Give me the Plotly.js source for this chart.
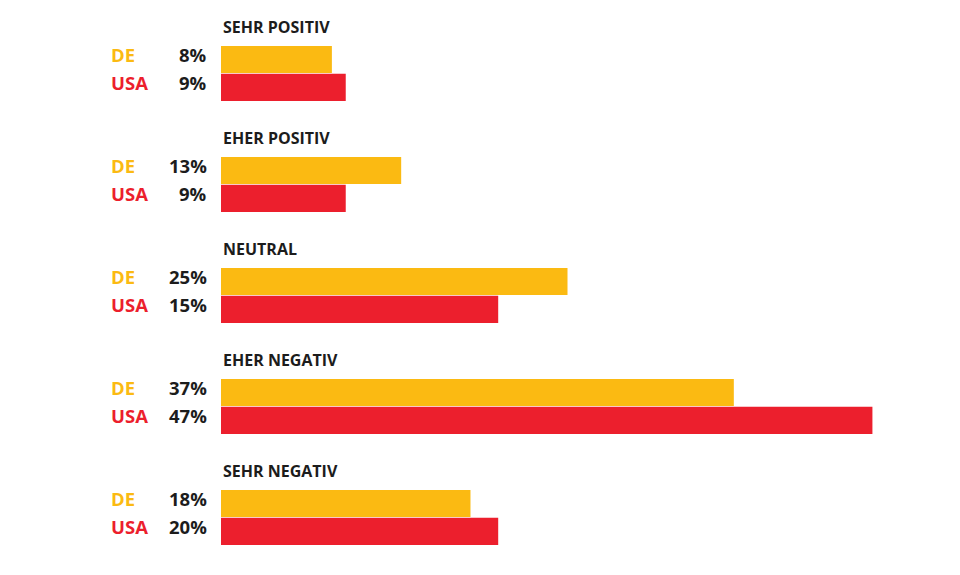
<!DOCTYPE html>
<html>
<head>
<meta charset="utf-8">
<script src="https://cdn.plot.ly/plotly-3.0.1.min.js"></script>
<style>
html,body{margin:0;padding:0;background:#ffffff;}
#chart{width:960px;height:575px;}
</style>
</head>
<body>
<div id="chart"></div>
<script>
// Data
const categories = ["SEHR POSITIV", "EHER POSITIV", "NEUTRAL", "EHER NEGATIV", "SEHR NEGATIV"];
const seriesNames = ["DE", "USA"];
const deValues = [8, 13, 25, 37, 18];
const deLabels = ["8%", "13%", "25%", "37%", "18%"];
// bar lengths as drawn in the reference (the NEUTRAL USA bar is drawn at the 20% length)
const usaValues = [9, 9, 20, 47, 20];
const usaLabels = ["9%", "9%", "15%", "47%", "20%"];

const deColor = "#FBBA12";
const usaColor = "#EC1F2D";
const textColor = "#1c1c1c";
const fontFam = "'Open Sans', 'Noto Sans', sans-serif";

const rowOffset = 0.252;
const titleOffset = -0.295;
const labelShift = -0.042;
const barW = 0.245;

const groupIdx = categories.map((c, i) => i);
const deY = groupIdx.map(g => g);
const usaY = groupIdx.map(g => g + rowOffset);

const traces = [
  {type: "bar", orientation: "h", name: seriesNames[0], x: deValues, y: deY, width: barW,
   marker: {color: deColor, line: {width: 0}}, hoverinfo: "skip"},
  {type: "bar", orientation: "h", name: seriesNames[1], x: usaValues, y: usaY, width: barW,
   marker: {color: usaColor, line: {width: 0}}, hoverinfo: "skip"}
];

const mL = 221, mR = 46, plotW = 960 - mL - mR;
const px = p => (p - mL) / plotW;

const annotations = [];
categories.forEach((c, i) => {
  annotations.push({xref: "paper", yref: "y", x: 0, y: i + titleOffset, text: c, showarrow: false,
    xanchor: "left", yanchor: "middle", font: {family: fontFam, size: 16, color: textColor, weight: 700}});
  annotations.push({xref: "paper", yref: "y", x: px(109), y: deY[i] + labelShift, text: seriesNames[0], showarrow: false,
    xanchor: "left", yanchor: "middle", font: {family: fontFam, size: 18.5, color: deColor, weight: 700}});
  annotations.push({xref: "paper", yref: "y", x: px(109), y: usaY[i] + labelShift, text: seriesNames[1], showarrow: false,
    xanchor: "left", yanchor: "middle", font: {family: fontFam, size: 18.5, color: usaColor, weight: 700}});
  annotations.push({xref: "paper", yref: "y", x: px(209), y: deY[i] + labelShift, text: deLabels[i], showarrow: false,
    xanchor: "right", yanchor: "middle", font: {family: fontFam, size: 18.5, color: textColor, weight: 700}});
  annotations.push({xref: "paper", yref: "y", x: px(209), y: usaY[i] + labelShift, text: usaLabels[i], showarrow: false,
    xanchor: "right", yanchor: "middle", font: {family: fontFam, size: 18.5, color: textColor, weight: 700}});
});

const layout = {
  width: 960, height: 575,
  margin: {l: mL, r: mR, t: 4, b: 16, pad: 0},
  paper_bgcolor: "#ffffff", plot_bgcolor: "#ffffff",
  barmode: "overlay",
  showlegend: false,
  xaxis: {range: [0, 50], visible: false, fixedrange: true},
  yaxis: {range: [4.5, -0.5], visible: false, fixedrange: true},
  annotations: annotations
};

Plotly.newPlot("chart", traces, layout, {displayModeBar: false, staticPlot: true});
</script>
</body>
</html>
